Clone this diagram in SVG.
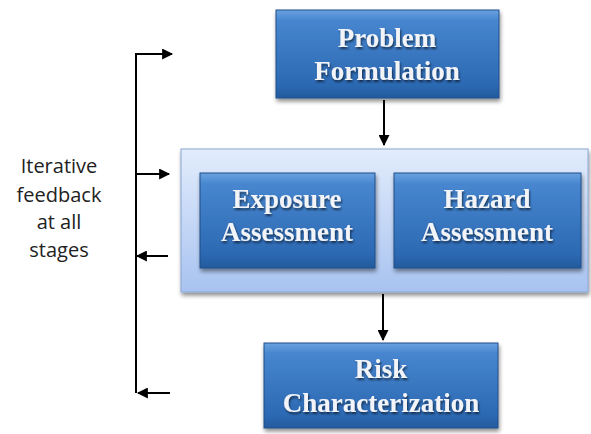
<svg xmlns="http://www.w3.org/2000/svg" width="591" height="434" viewBox="0 0 591 434">
<defs>
<linearGradient id="gBox" x1="0" y1="0" x2="0" y2="1">
<stop offset="0" stop-color="#6aa2e0"/>
<stop offset="0.12" stop-color="#4786cf"/>
<stop offset="0.85" stop-color="#2c69b3"/>
<stop offset="1" stop-color="#235a9c"/>
</linearGradient>
<linearGradient id="gCont" x1="0" y1="0" x2="0" y2="1">
<stop offset="0" stop-color="#e2ecfc"/>
<stop offset="1" stop-color="#a8c3f0"/>
</linearGradient>
<filter id="sh" x="-10%" y="-10%" width="120%" height="130%">
<feGaussianBlur in="SourceAlpha" stdDeviation="2"/>
<feOffset dx="1" dy="3" result="b"/>
<feComponentTransfer><feFuncA type="linear" slope="0.45"/></feComponentTransfer>
<feMerge><feMergeNode/><feMergeNode in="SourceGraphic"/></feMerge>
</filter>
<filter id="tsh" x="-10%" y="-20%" width="120%" height="150%">
<feGaussianBlur in="SourceAlpha" stdDeviation="1"/>
<feOffset dx="1" dy="2"/>
<feComponentTransfer><feFuncA type="linear" slope="0.6"/></feComponentTransfer>
<feMerge><feMergeNode/><feMergeNode in="SourceGraphic"/></feMerge>
</filter>
<marker id="ah" viewBox="0 0 10 10" refX="9" refY="5" markerWidth="12" markerHeight="11" markerUnits="userSpaceOnUse" orient="auto">
<path d="M0,0 L10,5 L0,10 Z" fill="#000"/>
</marker>
</defs>
<style>
.box{fill:url(#gBox);stroke:#1f4f8a;stroke-width:1;filter:url(#sh)}
.cont{fill:url(#gCont);stroke:#8aa6d2;stroke-width:1;filter:url(#sh)}
.bt{font-family:"Liberation Serif","Times New Roman",serif;font-weight:bold;font-size:27px;fill:#f2f4f8;text-anchor:middle;filter:url(#tsh)}
.lt{font-family:"Open Sans","Liberation Sans",sans-serif;font-size:20px;fill:#222;text-anchor:middle}
.ln{stroke:#000;stroke-width:2;fill:none}
.ar{stroke:#000;stroke-width:2;fill:none;marker-end:url(#ah)}
</style>
<g id="container">
<rect class="cont" x="181" y="149" width="407" height="143"/>
</g>
<g id="problem-formulation">
<rect class="box" x="276" y="10" width="223" height="88"/>
<text class="bt" x="387" y="47">Problem</text>
<text class="bt" x="387" y="80">Formulation</text>
</g>
<g id="exposure-assessment">
<rect class="box" x="200" y="173" width="175" height="95"/>
<text class="bt" x="287" y="208">Exposure</text>
<text class="bt" x="287" y="241">Assessment</text>
</g>
<g id="hazard-assessment">
<rect class="box" x="394" y="173" width="187" height="95"/>
<text class="bt" x="487" y="208">Hazard</text>
<text class="bt" x="487" y="241">Assessment</text>
</g>
<g id="risk-characterization">
<rect class="box" x="264" y="343" width="234" height="85"/>
<text class="bt" x="381" y="378">Risk</text>
<text class="bt" x="381" y="412">Characterization</text>
</g>
<g id="feedback-label">
<text class="lt" x="59" y="173">Iterative</text>
<text class="lt" x="59" y="202">feedback</text>
<text class="lt" x="59" y="229">at all</text>
<text class="lt" x="59" y="257">stages</text>
</g>
<g id="connectors">
<line class="ar" x1="384" y1="100" x2="384" y2="145"/>
<line class="ar" x1="383" y1="294" x2="383" y2="340"/>
<line class="ln" x1="136" y1="53" x2="136" y2="393"/>
<line class="ar" x1="135" y1="54" x2="172" y2="54"/>
<line class="ar" x1="135" y1="174" x2="169" y2="174"/>
<line class="ar" x1="168" y1="256" x2="137" y2="256"/>
<line class="ar" x1="170" y1="393" x2="138" y2="393"/>
</g>
</svg>
